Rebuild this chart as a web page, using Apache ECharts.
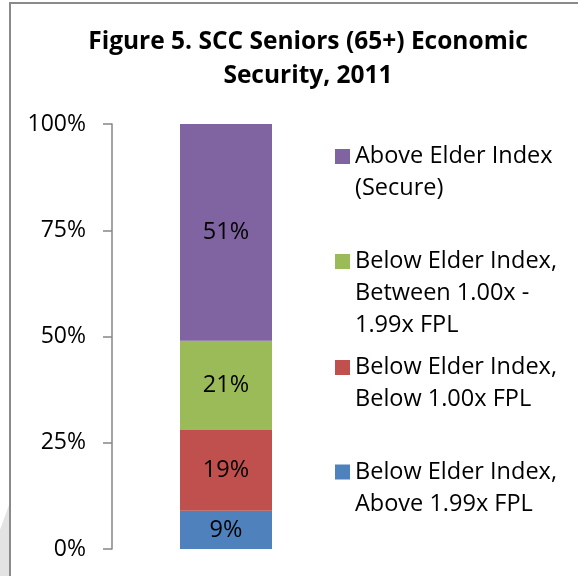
<!DOCTYPE html>
<html>
<head>
<meta charset="utf-8">
<script src="https://cdn.jsdelivr.net/npm/echarts@6/dist/echarts.min.js"></script>
<style>
  html, body { margin: 0; padding: 0; background: #fff; }
  #main { position: absolute; left: 0; top: 0; width: 578px; height: 576px; }
  /* frame of the original chart box (only left and top edges are in view) */
  #frame { position: absolute; left: 9px; top: 2px; width: 620px; height: 620px;
           border-left: 2px solid #8a8a8a; border-top: 2px solid #8a8a8a; pointer-events: none; }
  #shade { position: absolute; left: 0; top: 505px; width: 9px; height: 71px; background: #e3e3e3;
           clip-path: polygon(100% 0, 100% 100%, 0 100%, 0 35%); }
</style>
</head>
<body>
<div id="main"></div>
<div id="frame"></div>
<div id="shade"></div>
<script>
// data
var categories = ['2011'];
var seriesNames = [
  'Below Elder Index,\nAbove 1.99x FPL',
  'Below Elder Index,\nBelow 1.00x FPL',
  'Below Elder Index,\nBetween 1.00x -\n1.99x FPL',
  'Above Elder Index\n(Secure)'
];
var seriesValues = [
  [9],
  [19],
  [21],
  [51]
];
var yTicks = [0, 25, 50, 75, 100];

var colors = ['#4F81BD', '#C0504D', '#9BBB59', '#8064A2'];
var FONT = '"Open Sans"';
var LH = 32;

// one legend per entry so each sits where Excel put it.
// leading blank lines push the text down so the marker lines up with the first line
var legendIconCenters = [472, 367.5, 261.5, 156.5];
var legends = seriesNames.map(function (name, i) {
  var n = name.split('\n').length;
  return {
    orient: 'vertical',
    left: 335,
    top: legendIconCenters[i] - (2 * n - 1) * LH / 2,
    padding: 0,
    itemWidth: 15,
    itemHeight: 15,
    icon: 'rect',
    data: [name],
    formatter: function (nm) {
      return new Array(n).join('\n') + nm;
    },
    textStyle: {
      fontFamily: FONT,
      fontSize: 23.5,
      color: '#000',
      lineHeight: LH
    }
  };
});

var myChart = echarts.init(document.getElementById('main'), null, { renderer: 'canvas' });
myChart.setOption({
  animation: false,
  color: colors,
  title: {
    text: 'Figure 5. SCC Seniors (65+) Economic\nSecurity, 2011',
    left: 308,
    top: 25,
    padding: 0,
    textAlign: 'center',
    textStyle: {
      fontFamily: FONT,
      fontSize: 24.5,
      fontWeight: 'bold',
      color: '#000',
      lineHeight: 34
    }
  },
  legend: legends,
  grid: {
    left: 112,
    width: 228,
    top: 124,
    bottom: 27,
    containLabel: false
  },
  xAxis: {
    type: 'category',
    data: categories,
    show: false
  },
  yAxis: {
    type: 'value',
    min: yTicks[0],
    max: yTicks[yTicks.length - 1],
    interval: 25,
    axisLine: { show: true, lineStyle: { color: '#868686', width: 1.5 } },
    axisTick: { show: true, length: 9, lineStyle: { color: '#868686', width: 1.5 } },
    splitLine: { show: false },
    axisLabel: {
      margin: 26,
      fontFamily: FONT,
      fontSize: 23,
      color: '#000',
      formatter: '{value}%'
    }
  },
  series: seriesNames.map(function (name, i) {
    return {
      name: name,
      type: 'bar',
      stack: 'total',
      barWidth: 92,
      data: seriesValues[i],
      itemStyle: { color: colors[i] },
      label: {
        show: true,
        position: 'inside',
        fontFamily: FONT,
        fontSize: 23.5,
        color: '#000',
        formatter: '{c}%'
      }
    };
  })
});
</script>
</body>
</html>
